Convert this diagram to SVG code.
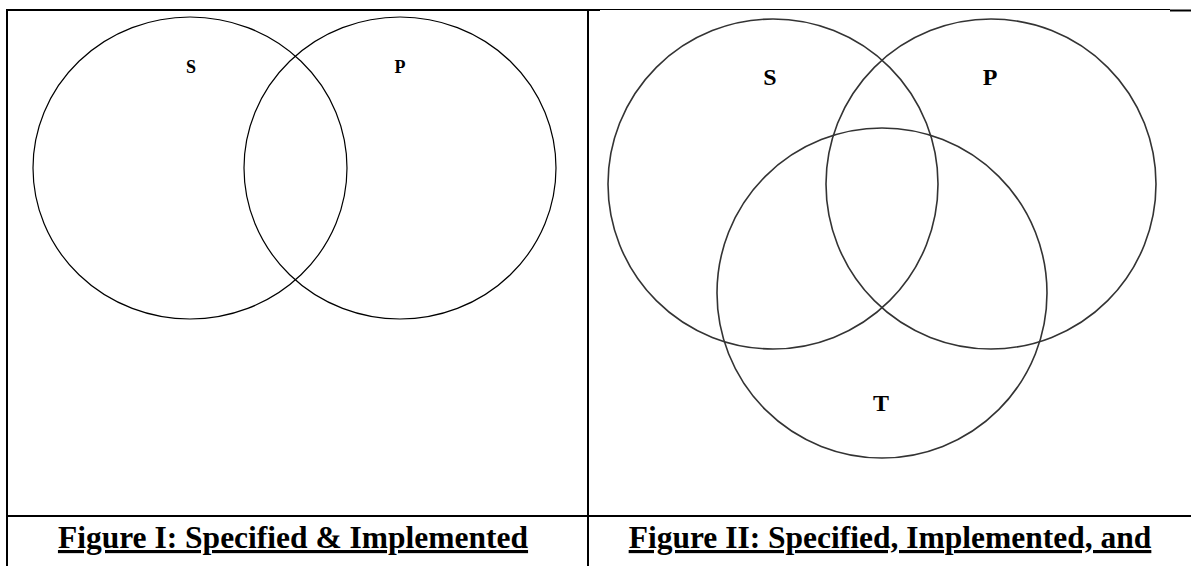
<svg xmlns="http://www.w3.org/2000/svg" width="1191" height="566" viewBox="0 0 1191 566">
<style>
.c1{fill:none;stroke:#000;stroke-width:1.2}
.c2{fill:none;stroke:#333;stroke-width:1.6}
.lbl{font-family:"Liberation Serif","Times New Roman",serif;font-weight:bold;text-anchor:middle;fill:#000}
.cap{font-family:"Liberation Serif","Times New Roman",serif;font-weight:bold;font-size:31.5px;text-anchor:middle;text-decoration:underline;fill:#000}
.b{stroke:#000;fill:none}
</style>
<rect width="1191" height="566" fill="#fff"/>
<g id="table">
<line class="b" x1="6" y1="10" x2="600" y2="10" stroke-width="2"/>
<line class="b" x1="600" y1="9.5" x2="1170" y2="9.5" stroke-width="1"/>
<line class="b" x1="1170" y1="10.5" x2="1191" y2="10.5" stroke-width="2"/>
<line class="b" x1="7" y1="9" x2="7" y2="566" stroke-width="2"/>
<line class="b" x1="588" y1="9" x2="588" y2="566" stroke-width="2"/>
<line class="b" x1="6" y1="516" x2="1191" y2="516" stroke-width="2"/>
</g>
<g id="fig1">
<g id="fig1-S"><ellipse class="c1" cx="190" cy="168" rx="157" ry="151"/><text class="lbl" x="191" y="73" font-size="18">S</text></g>
<g id="fig1-P"><ellipse class="c1" cx="400" cy="168" rx="156" ry="151"/><text class="lbl" x="400" y="73" font-size="18">P</text></g>
</g>
<g id="fig2">
<g id="fig2-S"><circle class="c2" cx="773" cy="184" r="165"/><text class="lbl" x="770" y="85" font-size="24">S</text></g>
<g id="fig2-P"><circle class="c2" cx="991" cy="184" r="165"/><text class="lbl" x="990" y="85" font-size="24">P</text></g>
<g id="fig2-T"><circle class="c2" cx="882" cy="293" r="165"/><text class="lbl" x="881" y="411" font-size="24">T</text></g>
</g>
<g id="captions">
<text class="cap" x="293" y="548">Figure I: Specified &amp; Implemented</text>
<text class="cap" x="890" y="548">Figure II: Specified, Implemented, and</text>
</g>
</svg>
